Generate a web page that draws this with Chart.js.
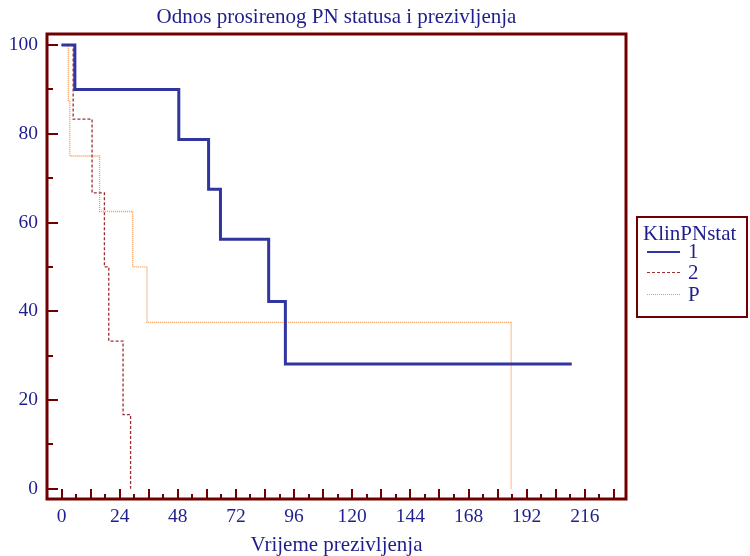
<!DOCTYPE html>
<html>
<head>
<meta charset="utf-8">
<script src="https://cdn.jsdelivr.net/npm/chart.js@4.4.1/dist/chart.umd.min.js"></script>
<style>
    html, body { margin: 0; padding: 0; background: #fff; }
    #wrap { position: relative; width: 750px; height: 556px; }
    #legend {
        position: absolute; left: 636px; top: 216px; width: 108px; height: 98px;
        border: 2px solid #700000; font-family: "Liberation Serif", "Times New Roman", serif;
        color: #1e1e8c; font-size: 21px; line-height: 24px; box-sizing: content-box;
    }
    #legend .ttl { position: absolute; left: 5px; top: 3px; }
    #legend .row { position: absolute; left: 9px; height: 24px; width: 90px; }
    #legend .row span.ln { position: absolute; left: 0; top: 12px; width: 33px; height: 0; }
    #legend .row span.lb { position: absolute; left: 41px; top: 0; }
</style>
</head>
<body>
<div id="wrap">
    <canvas id="chartKM" width="750" height="556"></canvas>
    <div id="legend">
        <div class="ttl">KlinPNstat</div>
        <div class="row" style="top:21px"><span class="ln" style="border-top:2px solid #3035a0"></span><span class="lb">1</span></div>
        <div class="row" style="top:42px"><span class="ln" style="border-top:1px dashed #a03030"></span><span class="lb">2</span></div>
        <div class="row" style="top:64px"><span class="ln" style="border-top:1px dotted #f5964a"></span><span class="lb">P</span></div>
    </div>
</div>
<script>
// Kaplan-Meier krivulje (vrijeme, % prezivljenja)
const grupa1Vrijeme = [0, 5.5, 48.4, 60.7, 65.6, 85.5, 92.4, 210.6];
const grupa1Prez = [100, 90, 78.75, 67.5, 56.25, 42.2, 28.1, 28.1];
const grupa2Vrijeme = [0, 4.8, 12.6, 17.7, 19.5, 25.4, 28.5];
const grupa2Prez = [100, 83.3, 66.7, 50, 33.3, 16.7, 0];
const grupaPVrijeme = [0, 2.8, 3.4, 15.7, 29.4, 35.3, 185.6];
const grupaPPrez = [100, 87.5, 75, 62.5, 50, 37.5, 0];

const xTickVals = [0, 24, 48, 72, 96, 120, 144, 168, 192, 216];
const yTickVals = [0, 20, 40, 60, 80, 100];

const FONT = '"Liberation Serif", "Times New Roman", serif';
const TEXT = '#1e1e8c';
const FRAME = '#700000';

const toPoints = (xs, ys) => xs.map((x, i) => ({ x: x, y: ys[i] }));

// okvir + unutarnje crtice
const okvirPlugin = {
    id: 'okvir',
    afterDraw(chart) {
        const { ctx, chartArea: a, scales: { x, y } } = chart;
        ctx.save();
        ctx.strokeStyle = FRAME;
        ctx.lineWidth = 2;
        ctx.beginPath();
        for (let v = 0; v <= x.max; v += 6) {
            const px = Math.round(x.getPixelForValue(v));
            const len = v % 12 === 0 ? 10 : 5;
            ctx.moveTo(px, a.bottom);
            ctx.lineTo(px, a.bottom - len);
        }
        for (let v = 0; v <= y.max; v += 10) {
            const py = Math.round(y.getPixelForValue(v));
            const len = v % 20 === 0 ? 11 : 6;
            ctx.moveTo(a.left, py);
            ctx.lineTo(a.left + len, py);
        }
        ctx.stroke();
        ctx.lineWidth = 3;
        ctx.strokeRect(a.left, a.top, a.right - a.left, a.bottom - a.top);
        ctx.restore();
    }
};

new Chart(document.getElementById('chartKM'), {
    type: 'line',
    data: {
        datasets: [
            { label: '1', data: toPoints(grupa1Vrijeme, grupa1Prez), stepped: true, borderColor: '#3035a0', borderWidth: 3, pointRadius: 0 },
            { label: '2', data: toPoints(grupa2Vrijeme, grupa2Prez), stepped: true, borderColor: '#a03030', borderWidth: 1.3, borderDash: [3, 2], pointRadius: 0 },
            { label: 'P', data: toPoints(grupaPVrijeme, grupaPPrez), stepped: true, borderColor: '#f5964a', borderWidth: 1.3, borderDash: [1, 1], pointRadius: 0 }
        ]
    },
    options: {
        responsive: false,
        animation: false,
        layout: { padding: { left: 0, right: 124, top: 0, bottom: 0 } },
        plugins: {
            legend: { display: false },
            tooltip: { enabled: false },
            title: {
                display: true,
                text: 'Odnos prosirenog PN statusa i prezivljenja',
                fullSize: false,
                color: TEXT,
                font: { family: FONT, size: 21, weight: 'normal' },
                padding: { top: 4.5, bottom: 4.3 }
            }
        },
        scales: {
            x: {
                type: 'linear',
                min: -6,
                max: 233,
                afterBuildTicks: s => { s.ticks = xTickVals.map(v => ({ value: v })); },
                afterFit: s => { s.height = 57; },
                grid: { display: false, drawTicks: false },
                border: { display: false },
                ticks: { color: TEXT, font: { family: FONT, size: 19.5 }, padding: 6, maxRotation: 0 },
                title: { display: true, text: 'Vrijeme prezivljenja', color: TEXT, font: { family: FONT, size: 21 }, padding: { top: 0, bottom: -2 } }
            },
            y: {
                min: -2.3,
                max: 102.5,
                afterBuildTicks: s => { s.ticks = yTickVals.map(v => ({ value: v })); },
                afterFit: s => { s.width = 47; },
                grid: { display: false, drawTicks: false },
                border: { display: false },
                ticks: { color: TEXT, font: { family: FONT, size: 19.5 }, padding: 9 }
            }
        }
    },
    plugins: [okvirPlugin]
});
</script>
</body>
</html>
